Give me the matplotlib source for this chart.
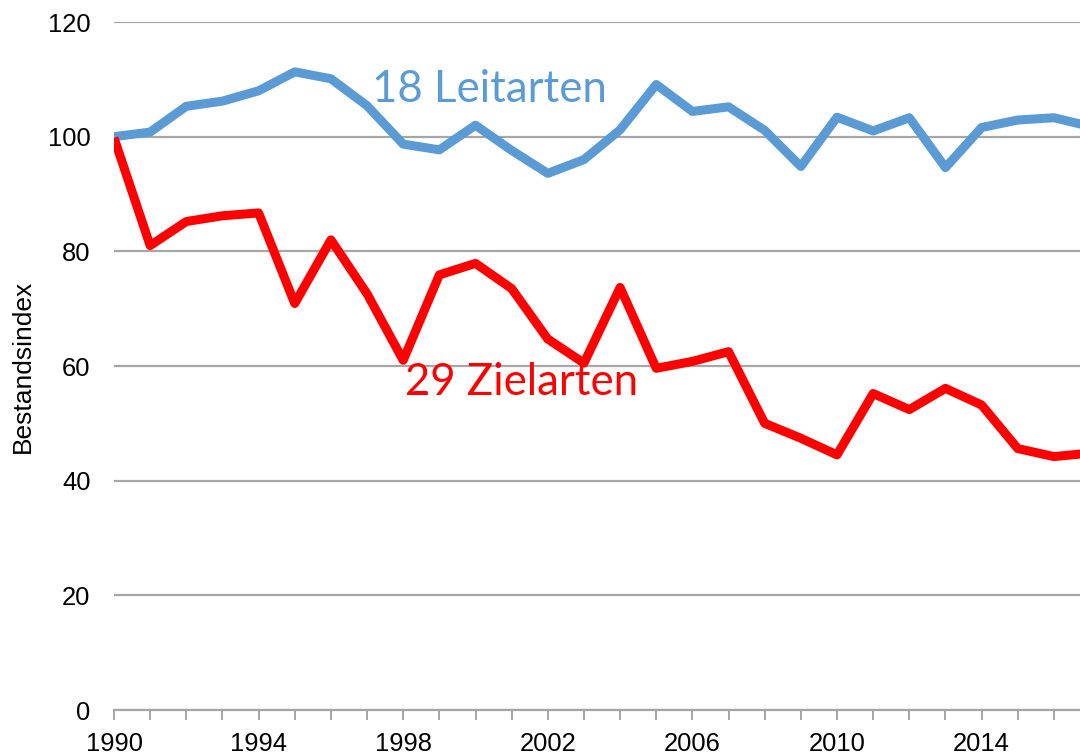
import matplotlib
matplotlib.use("Agg")
import matplotlib.pyplot as plt
from matplotlib.ticker import MultipleLocator

years = list(range(1990, 2018))
leitarten = [100.0, 100.8, 105.3, 106.2, 108.0, 111.3, 110.1, 105.4, 98.7, 97.7,
             102.0, 97.6, 93.6, 96.0, 101.2, 109.1, 104.4, 105.2, 101.1, 94.8,
             103.4, 101.0, 103.3, 94.6, 101.6, 102.9, 103.3, 101.8]
zielarten = [99.8, 81.0, 85.2, 86.2, 86.7, 70.9, 82.0, 72.6, 61.0, 75.9,
             77.9, 73.5, 64.7, 60.5, 73.7, 59.6, 60.8, 62.5, 50.0, 47.4,
             44.5, 55.2, 52.4, 56.1, 53.2, 45.6, 44.2, 44.8]
y_ticks = [0, 20, 40, 60, 80, 100, 120]
x_tick_labels = [1990, 1994, 1998, 2002, 2006, 2010, 2014]

blue = "#5B9BD5"
red = "#FF0000"
grey = "#A6A6A6"

fig = plt.figure(figsize=(10.8, 7.55), dpi=100)
ax = fig.add_axes([114 / 1080, 45 / 755, 1 - 114 / 1080, (710 - 22) / 755])

ax.plot(years, leitarten, color=blue, lw=6.5, solid_joinstyle="round",
        solid_capstyle="butt", zorder=3)
ax.plot(years, zielarten, color=red, lw=6.5, solid_joinstyle="round",
        solid_capstyle="butt", zorder=3)

ax.set_xlim(1990, 1990 + (1080 - 114) / 36.15)
ax.set_ylim(0, 120)

ax.set_yticks(y_ticks)
ax.yaxis.grid(True, color=grey, lw=1.6)
ax.set_axisbelow(True)
ax.tick_params(axis="y", length=0, pad=17, labelsize=18.4, labelcolor="black")

ax.set_xticks(x_tick_labels)
ax.set_xticklabels([str(v) for v in x_tick_labels])
ax.xaxis.set_minor_locator(MultipleLocator(1))
ax.tick_params(axis="x", which="both", direction="out", length=7, width=1.4,
               color=grey, pad=9, labelsize=18.4)

for s in ["top", "right", "left"]:
    ax.spines[s].set_visible(False)
ax.spines["bottom"].set_color(grey)
ax.spines["bottom"].set_linewidth(1.6)

for lab in ax.get_xticklabels() + ax.get_yticklabels():
    lab.set_fontfamily("Liberation Sans")

ax.set_ylabel("Bestandsindex", fontfamily="Liberation Sans", fontsize=19,
              labelpad=9)

ax.text(1997.14, 106.1, "18 Leitarten", color=blue, fontfamily="Lato",
        fontsize=31.5, ha="left", va="baseline")
ax.text(1998.05, 54.9, "29 Zielarten", color=red, fontfamily="Lato",
        fontsize=31.5, ha="left", va="baseline")

fig.savefig("out.png", dpi=100)
